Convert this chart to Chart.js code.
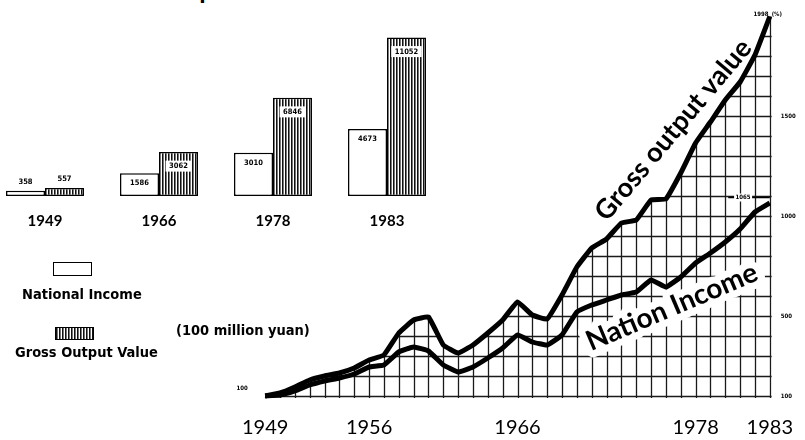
<!DOCTYPE html>
<html>
<head>
<meta charset="utf-8">
<script src="https://cdn.jsdelivr.net/npm/chart.js@4.4.1/dist/chart.umd.min.js"></script>
<style>
  body { margin: 0; width: 805px; height: 440px; overflow: hidden; background: #fff; position: relative; }
  .abs { position: absolute; white-space: nowrap; color: #000; }
  .cond { font-family: "Liberation Sans Narrow", "DejaVu Sans Condensed", "Arial Narrow", sans-serif; font-weight: bold; }
  #title { left: 82px; top: -27px; font: bold 26px Lato, sans-serif; }
  #barChart { position: absolute; left: -12px; top: 0; }
  #lineChart { position: absolute; left: 230px; top: 0; }
  #niBox { left: 53px; top: 262px; width: 37px; height: 12px; border: 1.5px solid #000; background: #fff; }
  #govBox { left: 55px; top: 327px; width: 37px; height: 11px; border: 1px solid #000;
    background: repeating-linear-gradient(90deg, #111 0 1px, #777 1px 2px, #fff 2px 3px); }
</style>
</head>
<body>
<div id="title" class="abs">Gross Output</div>
<canvas id="barChart" width="456" height="230"></canvas>
<canvas id="lineChart" width="575" height="440"></canvas>
<div id="niBox" class="abs"></div>
<div class="abs cond" style="left:22px;top:286px;font-size:14.5px;">National Income</div>
<div id="govBox" class="abs"></div>
<div class="abs cond" style="left:15px;top:344px;font-size:14.5px;">Gross Output Value</div>
<div class="abs cond" style="left:176px;top:322px;font-size:14.5px;">(100 million yuan)</div>
<script>
// bar chart: absolute values, 100 million yuan
const barYears = ['1949', '1966', '1978', '1983'];
const nationalIncome = [358, 1586, 3010, 4673];
const grossOutput = [557, 3062, 6846, 11052];

// line chart: index, 1949 = 100
const years = [1949, 1950, 1951, 1952, 1953, 1954, 1955, 1956, 1957, 1958, 1959, 1960,
  1961, 1962, 1963, 1964, 1965, 1966, 1967, 1968, 1969, 1970, 1971, 1972,
  1973, 1974, 1975, 1976, 1977, 1978, 1979, 1980, 1981, 1982, 1983];
const grossIndex = [100, 115, 145, 180, 200, 215, 240, 280, 305, 415, 480, 495,
  355, 315, 355, 415, 480, 570, 505, 485, 605, 745, 840, 885,
  965, 980, 1080, 1085, 1215, 1365, 1470, 1580, 1670, 1805, 1998];
const incomeIndex = [100, 105, 125, 155, 175, 190, 210, 245, 255, 320, 345, 325,
  255, 220, 245, 290, 340, 405, 370, 355, 405, 520, 555, 580,
  605, 620, 680, 645, 695, 765, 815, 870, 935, 1020, 1065];
const axisYears = [1949, 1956, 1966, 1978, 1983];
const indexTicks = [100, 500, 1000, 1500];

Chart.defaults.color = '#000';
const narrow = '"Liberation Sans Narrow", "DejaVu Sans Condensed", sans-serif';

// vertical stripe fill for the gross output bars
function stripes() {
  const c = document.createElement('canvas');
  c.width = 3; c.height = 4;
  const g = c.getContext('2d');
  g.fillStyle = '#fff'; g.fillRect(0, 0, 3, 4);
  g.fillStyle = '#111'; g.fillRect(0, 0, 1, 4);
  g.fillStyle = '#777'; g.fillRect(1, 0, 1, 4);
  return g.createPattern(c, 'repeat');
}

const barLabels = {
  id: 'barLabels',
  afterDatasetsDraw(chart) {
    const ctx = chart.ctx;
    ctx.save();
    ctx.font = 'bold 7.5px ' + narrow;
    ctx.textAlign = 'center';
    ctx.textBaseline = 'middle';
    chart.data.datasets.forEach((ds, di) => {
      chart.getDatasetMeta(di).data.forEach((bar, i) => {
        const txt = String(ds.data[i]);
        let y;
        if (i === 0) {
          y = bar.y - 9;
        } else if (di === 1) {
          y = bar.y + 14;
          const w = ctx.measureText(txt).width + 7;
          ctx.fillStyle = '#fff';
          ctx.fillRect(bar.x - w / 2, y - 5.5, w, 11);
        } else {
          y = bar.y + 10;
        }
        ctx.fillStyle = '#000';
        ctx.fillText(txt, bar.x, y);
      });
    });
    ctx.restore();
  }
};

new Chart(document.getElementById('barChart'), {
  type: 'bar',
  data: {
    labels: barYears,
    datasets: [
      { label: 'National Income', data: nationalIncome, backgroundColor: '#fff',
        borderColor: '#000', borderWidth: 1.5, borderSkipped: false },
      { label: 'Gross Output Value', data: grossOutput, backgroundColor: stripes(),
        borderColor: '#000', borderWidth: 1.5, borderSkipped: false }
    ]
  },
  options: {
    responsive: false,
    animation: false,
    layout: { padding: { top: 24, left: 0, right: 0, bottom: 0 } },
    datasets: { bar: { categoryPercentage: 0.684, barPercentage: 1 } },
    scales: {
      x: {
        grid: { display: false }, border: { display: false },
        afterFit: s => { s.height = 34; },
        ticks: { padding: 8, font: { family: 'Lato', size: 15, weight: 'bold' } }
      },
      y: { display: false, min: 0, max: 12000 }
    },
    plugins: { legend: { display: false }, tooltip: { enabled: false } }
  },
  plugins: [barLabels]
});

// grid under the gross output curve, plus the curve labels
const gridUnderGross = {
  id: 'gridUnderGross',
  beforeDatasetsDraw(chart) {
    const { ctx, scales: { x, y } } = chart;
    const pts = chart.getDatasetMeta(0).data;
    const last = pts[pts.length - 1];
    const base = y.getPixelForValue(100);
    ctx.save();
    ctx.beginPath();
    ctx.moveTo(pts[0].x - 1, base + 2);
    pts.forEach(p => ctx.lineTo(p.x, p.y));
    ctx.lineTo(last.x + 2, last.y);
    ctx.lineTo(last.x + 2, base + 2);
    ctx.closePath();
    ctx.clip();
    ctx.strokeStyle = '#1a1a1a';
    ctx.lineWidth = 1.3;
    ctx.beginPath();
    years.forEach(yr => {
      const px = Math.round(x.getPixelForValue(yr)) + 0.5;
      ctx.moveTo(px, base + 2);
      ctx.lineTo(px, 0);
    });
    for (let v = 100; v <= 2000; v += 100) {
      const py = Math.round(y.getPixelForValue(v)) + 0.5;
      ctx.moveTo(x.left, py);
      ctx.lineTo(x.right + 2, py);
    }
    ctx.stroke();
    ctx.restore();

    ctx.save();
    ctx.font = 'bold 28px Lato, sans-serif';
    ctx.textAlign = 'center';
    ctx.textBaseline = 'middle';
    ctx.lineJoin = 'round';
    // Nation Income sits on a cleared patch of the grid
    ctx.save();
    ctx.translate(x.getPixelForValue(1976.4), y.getPixelForValue(545));
    ctx.rotate(-23 * Math.PI / 180);
    ctx.strokeStyle = '#fff';
    ctx.lineWidth = 14;
    ctx.strokeText('Nation Income', 0, 0);
    ctx.fillStyle = '#000';
    ctx.fillText('Nation Income', 0, 0);
    ctx.restore();
    ctx.save();
    ctx.font = 'bold 27px Lato, sans-serif';
    ctx.translate(x.getPixelForValue(1976.5), y.getPixelForValue(1430));
    ctx.rotate(-50 * Math.PI / 180);
    ctx.fillStyle = '#000';
    ctx.fillText('Gross output value', 0, 0);
    ctx.restore();

    // small value tags
    ctx.font = 'bold 6px ' + narrow;
    ctx.fillStyle = '#000';
    ctx.fillText('1998', x.getPixelForValue(1982.4), y.getPixelForValue(1998) - 2);
    ctx.fillText('(%)', x.getPixelForValue(1983) + 7, y.getPixelForValue(1998) - 2);
    ctx.fillText('100', x.getPixelForValue(1949) - 23, y.getPixelForValue(100) - 8);
    const ly = Math.round(y.getPixelForValue(1065)) - 5.5;
    ctx.strokeStyle = '#000';
    ctx.lineWidth = 1.3;
    ctx.beginPath();
    ctx.moveTo(x.getPixelForValue(1980.2), ly);
    ctx.lineTo(x.getPixelForValue(1983), ly);
    ctx.stroke();
    const lx = x.getPixelForValue(1981.2);
    ctx.fillStyle = '#fff';
    ctx.fillRect(lx - 9, ly - 4, 18, 8);
    ctx.fillStyle = '#000';
    ctx.fillText('1065', lx, ly);
    ctx.restore();
  }
};

new Chart(document.getElementById('lineChart'), {
  type: 'line',
  data: {
    datasets: [
      { label: 'Gross output value', data: years.map((yr, i) => ({ x: yr, y: grossIndex[i] })),
        borderColor: '#000', borderWidth: 5, pointRadius: 0, tension: 0.1, fill: false, clip: false },
      { label: 'Nation Income', data: years.map((yr, i) => ({ x: yr, y: incomeIndex[i] })),
        borderColor: '#000', borderWidth: 5, pointRadius: 0, tension: 0.1, fill: false, clip: false }
    ]
  },
  options: {
    responsive: false,
    animation: false,
    layout: { padding: { left: 32, top: 16, right: 0, bottom: 0 } },
    scales: {
      x: {
        type: 'linear', min: 1949, max: 1983,
        grid: { display: false }, border: { display: false },
        afterFit: s => { s.height = 44; },
        afterBuildTicks: s => { s.ticks = axisYears.map(v => ({ value: v })); },
        ticks: { padding: 12, maxRotation: 0, font: { family: 'Lato', size: 20 }, callback: v => String(v) }
      },
      y: {
        position: 'right', min: 100, max: 2000,
        grid: { display: false }, border: { display: false },
        afterFit: s => { s.width = 28; },
        afterBuildTicks: s => { s.ticks = indexTicks.map(v => ({ value: v })); },
        ticks: { padding: 3, font: { family: narrow, size: 6, weight: 'bold' }, callback: v => String(v) }
      }
    },
    plugins: { legend: { display: false }, tooltip: { enabled: false } }
  },
  plugins: [gridUnderGross]
});
</script>
</body>
</html>
